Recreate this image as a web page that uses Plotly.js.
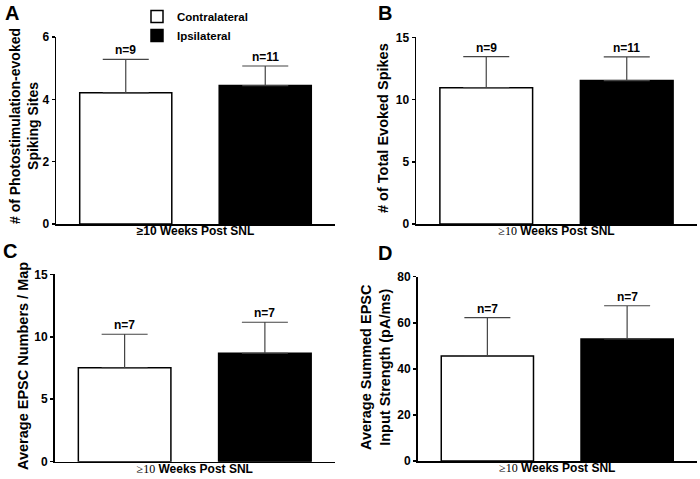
<!DOCTYPE html>
<html>
<head>
<meta charset="utf-8">
<script src="https://cdn.plot.ly/plotly-3.0.1.min.js"></script>
<style>html,body{margin:0;padding:0;background:#fff;}#chart{width:700px;height:479px;}</style>
</head>
<body>
<div id="chart"></div>
<script>
// ---- Data ----
const groups = ["Contralateral", "Ipsilateral"];
const xPos = [0, 1];
// Panel A: # of photostimulation-evoked spiking sites
const aMeans = [4.21, 4.44];
const aSem = [1.07, 0.63];
const aN = ["n=9", "n=11"];
// Panel B: # of total evoked spikes
const bMeans = [10.95, 11.52];
const bSem = [2.49, 1.90];
const bN = ["n=9", "n=11"];
// Panel C: average EPSC numbers / map
const cMeans = [7.52, 8.68];
const cSem = [2.68, 2.48];
const cN = ["n=7", "n=7"];
// Panel D: average summed EPSC input strength (pA/ms)
const dMeans = [45.6, 53.0];
const dSem = [16.6, 14.4];
const dN = ["n=7", "n=7"];

const panelLabels = ["A", "B", "C", "D"];
const yTitles = [
  "# of Photostimulation-evoked<br>Spiking Sites",
  "# of Total Evoked Spikes",
  "Average EPSC Numbers / Map",
  "Average Summed EPSC<br>Input Strength (pA/ms)"
];
const xTitleA = "≥10 Weeks Post SNL";
const xTitleOther = "<span style=\"font-family:'Liberation Serif',serif;font-weight:normal;fill:#000\">≥10</span> Weeks Post SNL";
const yRanges = [[0, 6], [0, 15], [0, 15], [0, 80]];
const yTicks = [[0, 2, 4, 6], [0, 5, 10, 15], [0, 5, 10, 15], [0, 20, 40, 60, 80]];

const panels = [
  {m: aMeans, s: aSem, n: aN},
  {m: bMeans, s: bSem, n: bN},
  {m: cMeans, s: cSem, n: cN},
  {m: dMeans, s: dSem, n: dN}
];

// ---- Layout geometry ----
const W = 700, H = 479;
const xDomains = [[56/W, 335/W], [416/W, 697/W], [54.5/W, 335/W], [417.5/W, 697/W]];
const yDomains = [[(H-224)/H, (H-37)/H], [(H-224)/H, (H-37.3)/H], [(H-461.7)/H, (H-274.3)/H], [(H-461)/H, (H-276.7)/H]];
const fills = ["#ffffff", "#000000"];
const FONT = "Liberation Sans, Arial, sans-serif";

const traces = [];
const annotations = [];
const layout = {
  width: W, height: H,
  margin: {l: 0, r: 0, t: 0, b: 0},
  paper_bgcolor: "#fff", plot_bgcolor: "rgba(0,0,0,0)",
  font: {family: FONT, color: "#000", size: 12},
  showlegend: true,
  legend: {
    x: 137/W, y: 1 - 2/H, xanchor: "left", yanchor: "top",
    font: {family: FONT, size: 11.5, color: "#000", weight: "bold"},
    bgcolor: "rgba(0,0,0,0)", tracegroupgap: 0, itemwidth: 30
  },
  barmode: "overlay",
  annotations: annotations
};

panels.forEach((p, i) => {
  const k = i === 0 ? "" : String(i + 1);
  const xa = "x" + k, ya = "y" + k;
  groups.forEach((g, j) => {
    traces.push({
      type: "bar",
      x: [xPos[j]], y: [p.m[j]],
      width: 0.66,
      name: g,
      legendgroup: g,
      showlegend: i === 0,
      xaxis: xa, yaxis: ya,
      marker: {color: fills[j], line: {color: "#000", width: 1.5}},
      error_y: {type: "data", symmetric: false, array: [p.s[j]], arrayminus: [0],
                color: "#444", thickness: 1.2, width: 23, visible: true},
      hoverinfo: "skip"
    });
    annotations.push({
      xref: xa, yref: ya, x: xPos[j], y: p.m[j] + p.s[j],
      text: p.n[j], showarrow: false, yanchor: "bottom", yshift: 0,
      font: {family: FONT, size: 12, weight: "bold", color: "#000"}
    });
  });
  layout["xaxis" + k] = {
    domain: xDomains[i], anchor: ya, range: [-0.5, 1.5],
    showline: true, linecolor: "#000", linewidth: 1.5,
    showticklabels: false, ticks: "", showgrid: false, zeroline: false,
    title: {text: i === 0 ? xTitleA : xTitleOther, standoff: 2,
            font: {family: FONT, size: 12, weight: "bold", color: "#000"}}
  };
  layout["yaxis" + k] = {
    domain: yDomains[i], anchor: xa, range: yRanges[i],
    tickvals: yTicks[i],
    showline: true, linecolor: "#000", linewidth: 1.5,
    ticks: "outside", ticklen: 3, tickwidth: 1.5, tickcolor: "#000",
    showgrid: false, zeroline: false,
    tickfont: {family: FONT, size: 12, weight: "bold", color: "#000"}
  };
});

// Y-axis titles (as rotated annotations for precise placement)
const yTitlePos = [[24, 126], [383, 128], [23, 366], [375, 367]];
const yTitleSizes = [14, 14.5, 14.5, 14.5];
yTitles.forEach((t, i) => {
  annotations.push({
    xref: "paper", yref: "paper",
    x: yTitlePos[i][0] / W, y: 1 - yTitlePos[i][1] / H,
    xanchor: "center", yanchor: "middle",
    text: t, textangle: -90, showarrow: false,
    font: {family: FONT, size: yTitleSizes[i], weight: "bold", color: "#000"}
  });
});

// Panel letters
const letterPos = [[12, 13], [385, 13], [10, 251], [385, 253]];
panelLabels.forEach((L, i) => {
  annotations.push({
    xref: "paper", yref: "paper",
    x: letterPos[i][0] / W, y: 1 - letterPos[i][1] / H,
    xanchor: "center", yanchor: "middle",
    text: L, showarrow: false,
    font: {family: FONT, size: 20, weight: "bold", color: "#000"}
  });
});

Plotly.newPlot("chart", traces, layout, {staticPlot: true});
</script>
</body>
</html>
